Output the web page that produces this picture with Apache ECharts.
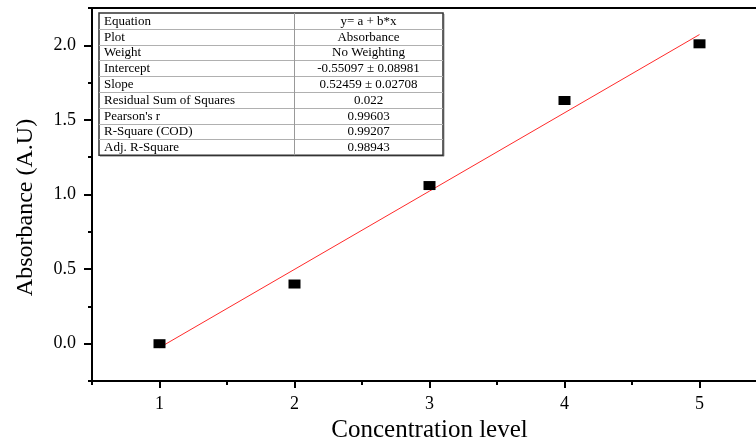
<!DOCTYPE html>
<html>
<head>
<meta charset="utf-8">
<script src="https://cdn.jsdelivr.net/npm/echarts@6/dist/echarts.min.js"></script>
<style>
  html, body { margin: 0; padding: 0; background: #fff; }
  #chart { width: 756px; height: 444px; }
</style>
</head>
<body>
<div id="chart"></div>
<script>
// Calibration data: absorbance measured at each concentration level
const concentration = [1, 2, 3, 4, 5];
const absorbance = [0.0, 0.40, 1.06, 1.63, 2.01];

// Linear fit parameters (y = a + b*x)
const fitIntercept = -0.55097;
const fitSlope = 0.52459;

// Axis tick values
const xMajorTicks = [1, 2, 3, 4, 5];
const yMajorTicks = [0.0, 0.5, 1.0, 1.5, 2.0];

// Fit statistics table
const statLabels = ['Equation', 'Plot', 'Weight', 'Intercept', 'Slope',
  'Residual Sum of Squares', "Pearson's r", 'R-Square (COD)', 'Adj. R-Square'];
const statValues = ['y= a + b*x', 'Absorbance', 'No Weighting', '-0.55097 \u00b1 0.08981',
  '0.52459 \u00b1 0.02708', '0.022', '0.99603', '0.99207', '0.98943'];

const serif = '"Liberation Serif", "Times New Roman", serif';

// Fitted line over the measured range
const xFirst = Math.min(...concentration);
const xLast = Math.max(...concentration);
const fitLine = [xFirst, xLast].map(x => [x, fitIntercept + fitSlope * x]);

const points = concentration.map((x, i) => [x, absorbance[i]]);

// Stats table drawn as graphic elements
const tbl = { left: 99, top: 13, width: 344, rowH: 15.8, split: 294 };
const tableGraphics = [];
tableGraphics.push({
  type: 'rect', z: 100,
  shape: { x: tbl.left + 1, y: tbl.top + 1, width: tbl.width, height: tbl.rowH * statLabels.length },
  style: { fill: 'none', stroke: '#999', lineWidth: 1 }
});
tableGraphics.push({
  type: 'rect', z: 100,
  shape: { x: tbl.left, y: tbl.top, width: tbl.width, height: tbl.rowH * statLabels.length },
  style: { fill: '#fff', stroke: '#333', lineWidth: 1.5 }
});
for (let i = 1; i < statLabels.length; i++) {
  const y = Math.round(tbl.top + i * tbl.rowH) + 0.5;
  tableGraphics.push({
    type: 'line', z: 101,
    shape: { x1: tbl.left, y1: y, x2: tbl.left + tbl.width, y2: y },
    style: { stroke: '#b0b0b0', lineWidth: 1 }
  });
}
tableGraphics.push({
  type: 'line', z: 101,
  shape: { x1: tbl.split + 0.5, y1: tbl.top, x2: tbl.split + 0.5, y2: tbl.top + tbl.rowH * statLabels.length },
  style: { stroke: '#999', lineWidth: 1 }
});
statLabels.forEach((label, i) => {
  const cy = tbl.top + (i + 0.5) * tbl.rowH + 0.5;
  tableGraphics.push({
    type: 'text', z: 102, x: tbl.left + 5, y: cy,
    style: { text: label, font: '13px ' + serif, fill: '#000', align: 'left', verticalAlign: 'middle' }
  });
  tableGraphics.push({
    type: 'text', z: 102, x: (tbl.split + tbl.left + tbl.width) / 2, y: cy,
    style: { text: statValues[i], font: '13px ' + serif, fill: '#000', align: 'center', verticalAlign: 'middle' }
  });
});

const chart = echarts.init(document.getElementById('chart'), null, { renderer: 'canvas' });

const axisLineStyle = { color: '#000', width: 2 };

chart.setOption({
  animation: false,
  backgroundColor: '#fff',
  grid: {
    left: 92, top: 8, width: 675, height: 373,
    show: true, borderColor: '#000', borderWidth: 2, backgroundColor: 'transparent',
    containLabel: false, outerBoundsMode: 'none'
  },
  xAxis: [
    {
      type: 'value', min: 0.5, max: 5.5, position: 'bottom',
      name: 'Concentration level', nameLocation: 'middle', nameGap: 35,
      nameTextStyle: { fontFamily: serif, fontSize: 25, color: '#000' },
      axisLine: { show: true, onZero: false, lineStyle: axisLineStyle },
      axisTick: { show: true, customValues: xMajorTicks, length: 7, lineStyle: axisLineStyle },
      axisLabel: {
        customValues: xMajorTicks, margin: 14, formatter: v => String(v),
        fontFamily: serif, fontSize: 18, color: '#000'
      },
      splitLine: { show: false }
    },
    {
      type: 'value', min: 0.5, max: 5.5, interval: 0.5, position: 'bottom',
      axisLine: { show: false, onZero: false },
      axisTick: { show: true, length: 4, lineStyle: axisLineStyle },
      axisLabel: { show: false },
      splitLine: { show: false }
    }
  ],
  yAxis: [
    {
      type: 'value', min: -0.25, max: 2.25, position: 'left',
      name: 'Absorbance (A.U)', nameLocation: 'middle', nameGap: 54,
      nameTextStyle: { fontFamily: serif, fontSize: 24, color: '#000', padding: [0, 26, 0, 0] },
      axisLine: { show: true, onZero: false, lineStyle: axisLineStyle },
      axisTick: { show: true, customValues: yMajorTicks, length: 8, lineStyle: axisLineStyle },
      axisLabel: {
        customValues: yMajorTicks, margin: 16, formatter: v => v.toFixed(1),
        fontFamily: serif, fontSize: 18, color: '#000'
      },
      splitLine: { show: false }
    },
    {
      type: 'value', min: -0.25, max: 2.25, interval: 0.25, position: 'left',
      axisLine: { show: false, onZero: false },
      axisTick: { show: true, length: 4, lineStyle: axisLineStyle },
      axisLabel: { show: false },
      splitLine: { show: false }
    }
  ],
  series: [
    {
      name: 'Linear Fit', type: 'line', xAxisIndex: 0, yAxisIndex: 0,
      data: fitLine, showSymbol: false, silent: true, z: 2,
      lineStyle: { color: '#ff2a2a', width: 1 }
    },
    {
      name: 'Absorbance', type: 'scatter', xAxisIndex: 0, yAxisIndex: 0,
      data: points, symbol: 'rect', symbolSize: [12, 9], z: 3,
      itemStyle: { color: '#000', opacity: 1 }
    }
  ],
  graphic: tableGraphics
});
</script>
</body>
</html>
